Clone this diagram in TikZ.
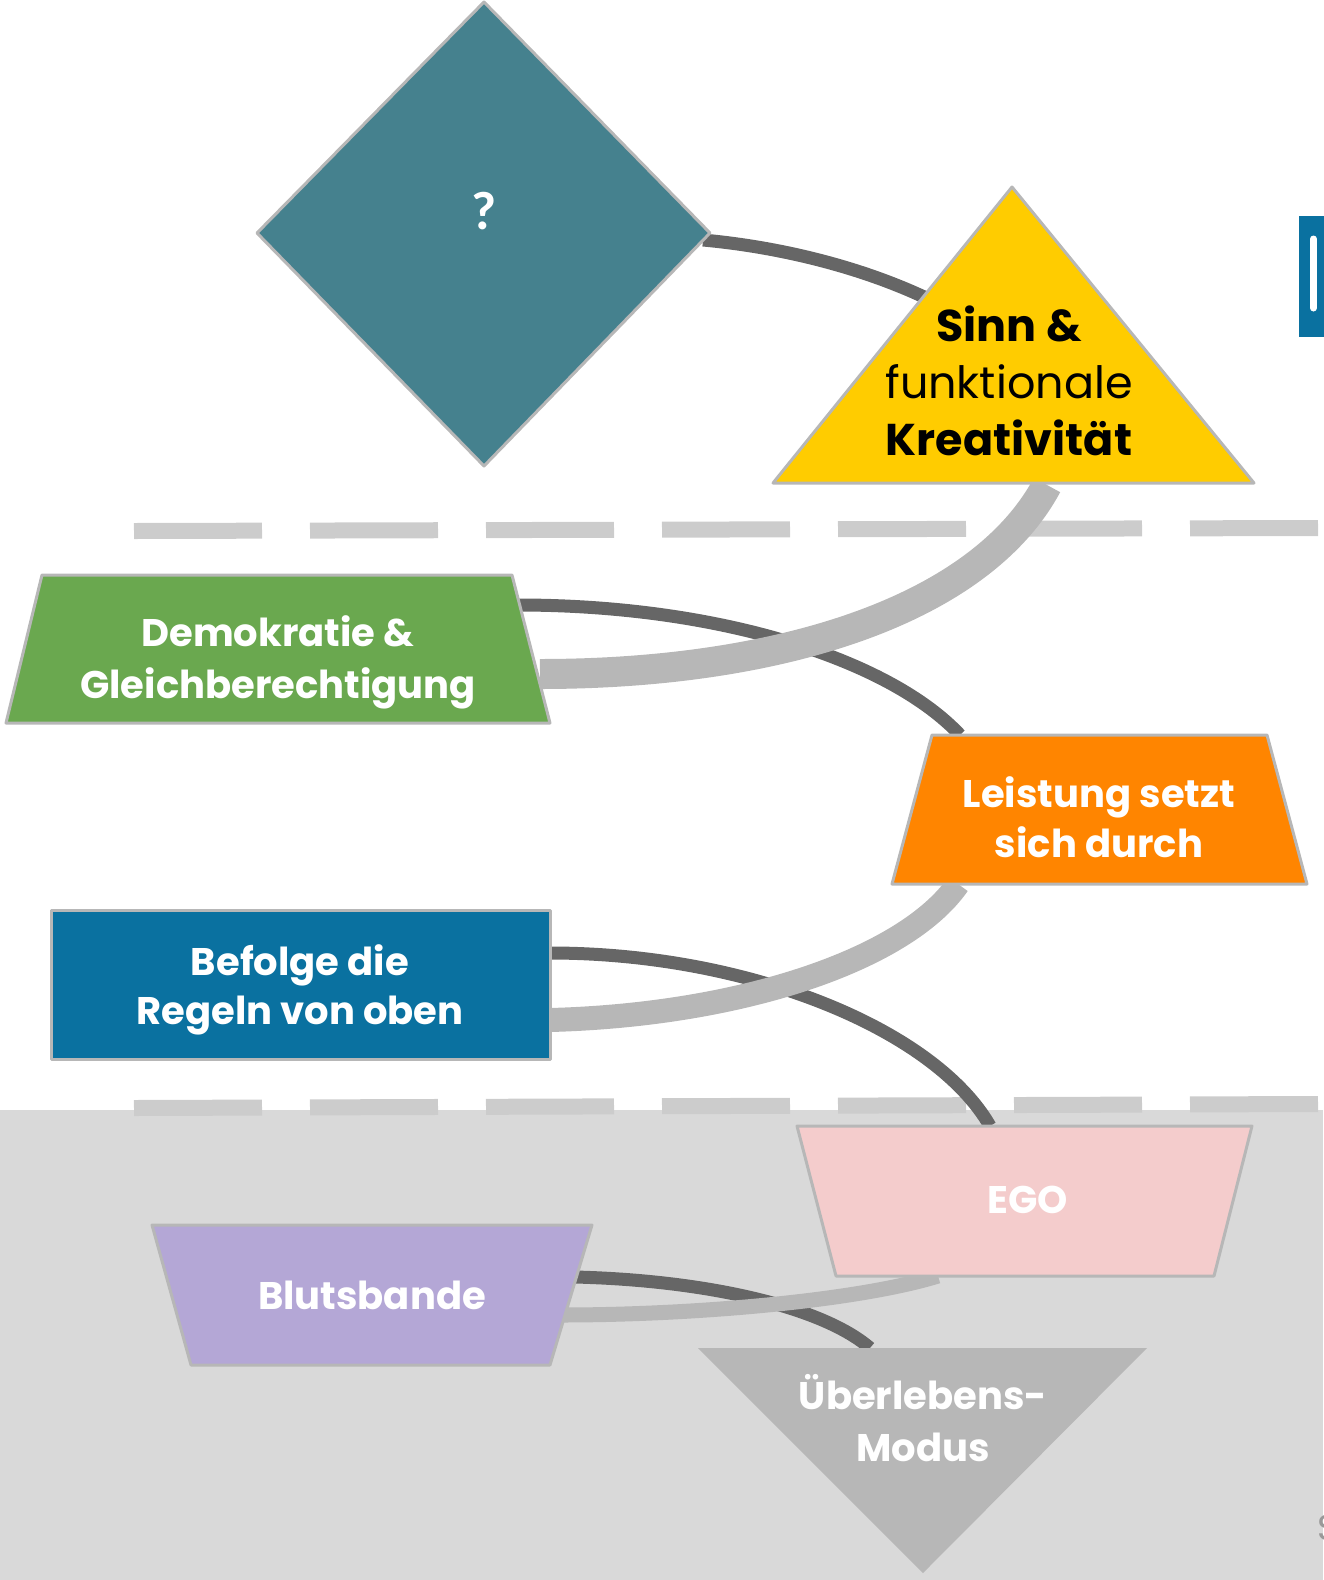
\documentclass[tikz,border=0pt]{standalone}
\usepackage{fontspec}
\setmainfont{Poppins}
\newfontfamily\qfont{Carlito}
\definecolor{bordergrey}{HTML}{B7B7B7}
\definecolor{darkcon}{HTML}{666666}
\definecolor{lightcon}{HTML}{B7B7B7}
\definecolor{dashgrey}{HTML}{CCCCCC}
\definecolor{bggrey}{HTML}{D9D9D9}
\definecolor{diamondc}{HTML}{45818E}
\definecolor{yellowc}{HTML}{FFCC00}
\definecolor{greenc}{HTML}{6AA84F}
\definecolor{orangec}{HTML}{FF8500}
\definecolor{bluec}{HTML}{0A71A0}
\definecolor{pinkc}{HTML}{F4CCCC}
\definecolor{purplec}{HTML}{B4A7D6}
\definecolor{greytri}{HTML}{B7B7B7}
\definecolor{sgrey}{HTML}{999999}
\tikzset{
  box/.style={draw=bordergrey, line width=3pt, line join=round},
  darkline/.style={draw=darkcon, line width=13pt},
  lightline/.style={draw=lightcon},
  lbl/.style={anchor=base, text=white, inner sep=0pt, font=\fontsize{38.5}{46}\selectfont\bfseries},
  ylbl/.style={anchor=base, text=black, inner sep=0pt},
  dashline/.style={draw=dashgrey, line width=16pt, dash pattern=on 128pt off 48pt},
}
\begin{document}
\begin{tikzpicture}[x=1pt, y=-1pt]
\useasboundingbox (0,0) rectangle (1323,1580);
% background of lower band
\fill[bggrey] (0,1110) rectangle (1323,1580);
% dashed separators
\draw[dashline] (134,531) -- (1318,528);
\draw[dashline] (134,1108) -- (1318,1104);

% connector end points
\coordinate (qR) at (703,240);
\coordinate (sinnIn) at (950,310);
\coordinate (sinnB) at (1047,485);
\coordinate (demoR1) at (518,605);
\coordinate (demoR2) at (540,674);
\coordinate (leistT) at (960,735);
\coordinate (leistB) at (958,884);
\coordinate (befR1) at (550,953);
\coordinate (befR2) at (550,1020);
\coordinate (egoT) at (990,1126);
\coordinate (egoB) at (938,1276);
\coordinate (blutR1) at (575,1277);
\coordinate (blutR2) at (560,1315);
\coordinate (uebT) at (870,1348);

% dark connectors
\draw[darkline] (qR) .. controls (790,248) and (880,272) .. (sinnIn);
\draw[darkline] (demoR1) .. controls (720,605) and (890,660) .. (leistT);
\draw[darkline] (befR1) .. controls (750,953) and (935,1030) .. (egoT);
\draw[darkline] (blutR1) .. controls (700,1280) and (820,1305) .. (uebT);
% light connectors
\draw[lightline, line width=30pt] (sinnB) .. controls (980,610) and (780,674) .. (demoR2);
\draw[lightline, line width=24pt] (leistB) .. controls (905,960) and (740,1015) .. (befR2);
\draw[lightline, line width=15pt] (egoB) .. controls (860,1300) and (700,1315) .. (blutR2);

% shapes
\filldraw[box, fill=diamondc] (484,2) -- (710,233) -- (484,466) -- (257,233) -- cycle;
\filldraw[box, fill=yellowc] (1012,187) -- (1254,483) -- (773,483) -- cycle;
\filldraw[box, fill=greenc] (42,575) -- (512,575) -- (550,723) -- (6,723) -- cycle;
\filldraw[box, fill=orangec] (932,735) -- (1267,735) -- (1307,884) -- (892,884) -- cycle;
\filldraw[box, fill=bluec] (51,910) rectangle (550,1059);
\filldraw[box, fill=pinkc] (797,1126) -- (1252,1126) -- (1214,1276) -- (836,1276) -- cycle;
\filldraw[box, fill=purplec] (152,1225) -- (592,1225) -- (550,1365) -- (191,1365) -- cycle;
\fill[greytri] (698,1348) -- (1147,1348) -- (923,1573) -- cycle;

% cut-off element at the right edge
\fill[bluec] (1299,216) rectangle (1330,337);
\draw[white, line width=7pt, line cap=round] (1313.5,239) -- (1313.5,308);

% texts
\node[anchor=base, text=white, inner sep=0pt, font=\qfont\bfseries\fontsize{54}{60}\selectfont] (q) at (484,229) {?};
\node[ylbl, font=\fontsize{44.5}{52}\selectfont\bfseries] (sinn1) at (1009,341) {Sinn \&};
\node[ylbl, font=\fontsize{44.5}{52}\selectfont] (sinn2) at (1009,398) {funktionale};
\node[ylbl, font=\fontsize{44.5}{52}\selectfont\bfseries] (sinn3) at (1009,455) {Kreativität};
\node[lbl] (demo1) at (278,646) {Demokratie \&};
\node[lbl] (demo2) at (278,698) {Gleichberechtigung};
\node[lbl] (leist1) at (1099,807) {Leistung setzt};
\node[lbl] (leist2) at (1099,857) {sich durch};
\node[lbl] (bef1) at (300,975) {Befolge die};
\node[lbl] (bef2) at (300,1024) {Regeln von oben};
\node[lbl] (ego) at (1028,1213) {EGO};
\node[lbl] (blut) at (372,1309) {Blutsbande};
\node[lbl] (ueb1) at (923,1409) {Überlebens-};
\node[lbl] (ueb2) at (923,1461) {Modus};
\node[anchor=base west, text=sgrey, inner sep=0pt, font=\fontsize{36}{40}\selectfont] (sclip) at (1317,1540) {S};
\end{tikzpicture}
\end{document}
